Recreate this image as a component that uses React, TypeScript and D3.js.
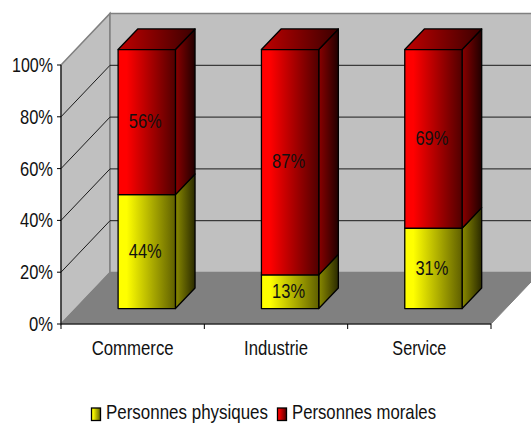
import React from "react";
import * as d3 from "d3";

const categories = ["Commerce", "Industrie", "Service"];
const seriesNames = ["Personnes physiques", "Personnes morales"];
const physiques = [44, 13, 31];
const morales = [56, 87, 69];
const yTicks = [0, 20, 40, 60, 80, 100];

const W = 531, H = 424;
const X0 = 61, X1 = 491, Y0 = 324, Y1 = 65;
const DX = 49, DY = -51.5;
const FONT = "'Liberation Sans', Arial, sans-serif";

const x = d3.scaleBand<string>().domain(categories).range([X0, X1]).paddingInner(0.6).paddingOuter(0.3);
const y = d3.scaleLinear().domain([0, 100]).range([Y0, Y1]);

const rows = categories.map((c, i) => ({ c, p: physiques[i], m: morales[i] }));
const stacked = d3.stack<any>().keys(["p", "m"])(rows);
const gradIds = ["y", "r"];
const front = ["#ffff00", "#ff0000"];
const frontEnd = ["#5f5f00", "#500000"];
const topStart = ["#aaaa00", "#c00000"];
const topEnd = ["#333300", "#3a0000"];
const sideStart = ["#8a8a00", "#8a0000"];
const sideEnd = ["#2a2a00", "#200000"];

const Z_START = 0.3, Z_LEN = 0.4;
const pts = (p: [number, number][]) => p.map(a => a.join(",")).join(" ");

function T({ x, y, w, children, size = 21, anchor = "middle" }: any) {
  return (
    <text x={x} y={y} fontFamily={FONT} fontSize={size} fill="#111" textAnchor={anchor}
      textLength={w} lengthAdjust="spacingAndGlyphs">{children}</text>
  );
}

function Grad({ id, a, b, stops }: any) {
  return (
    <linearGradient id={id} x1="0" x2="1" y1="0" y2="0">
      <stop offset="0" stopColor={a} />
      {stops ? <stop offset={stops} stopColor={a} /> : null}
      <stop offset="1" stopColor={b} />
    </linearGradient>
  );
}

export default function App() {
  const sx = DX * Z_START - 0.6, sy = DY * Z_START;
  const bx = DX * Z_LEN, by = DY * Z_LEN;
  const bw = x.bandwidth();
  return (
    <svg width={W} height={H} style={{ position: "absolute", left: 0, top: 0, background: "#fff" }}>
      <defs>
        {gradIds.map((g, i) => (
          <React.Fragment key={g}>
            <Grad id={`f${g}`} a={front[i]} b={frontEnd[i]} stops="0.15" />
            <Grad id={`t${g}`} a={topStart[i]} b={topEnd[i]} />
            <Grad id={`s${g}`} a={sideStart[i]} b={sideEnd[i]} />
          </React.Fragment>
        ))}
      </defs>

      <polygon points={pts([[X0, Y1], [X0 + DX, Y1 + DY], [X0 + DX, Y0 + DY], [X0, Y0]])} fill="#c0c0c0" stroke="#808080" strokeWidth={1.5} />
      <polygon points={pts([[X0 + DX, Y1 + DY], [X1 + DX, Y1 + DY], [X1 + DX, Y0 + DY], [X0 + DX, Y0 + DY]])} fill="#c0c0c0" stroke="#808080" strokeWidth={1.5} />
      <polygon points={pts([[X0, Y0], [X1, Y0], [X1 + DX, Y0 + DY], [X0 + DX, Y0 + DY]])} fill="#808080" stroke="#808080" />

      {yTicks.slice(1, -1).map(t => (
        <path key={t} d={`M${X0},${y(t)}L${X0 + DX},${y(t) + DY}L${X1 + DX},${y(t) + DY}`} stroke="#1a1a1a" strokeWidth={1} fill="none" />
      ))}

      <path d={`M${X0},${Y1}V${Y0}H${X1}`} fill="none" stroke="#000" strokeWidth={1} />
      {yTicks.map(t => (
        <g key={t}>
          <line x1={X0 - 4} x2={X0} y1={y(t)} y2={y(t)} stroke="#000" />
          <T x={53} y={y(t) + 7} anchor="end" w={t === 100 ? 41 : t === 0 ? 24 : 33}>{`${t}%`}</T>
        </g>
      ))}
      {[...categories.map(c => x(c)! - x.step() * 0.3), X1].map((v, i) => (
        <line key={i} x1={v} x2={v} y1={Y0} y2={Y0 + 5} stroke="#000" />
      ))}
      {categories.map((c, i) => (
        <T key={c} x={x(c)! - x.step() * 0.3 + x.step() / 2} y={355} w={[82, 64, 54][i]}>{c}</T>
      ))}

      {categories.map((c, ci) => {
        const left = x(c)! + sx, right = left + bw;
        return (
          <g key={c} stroke="#000" strokeWidth={1.3} strokeLinejoin="round">
            {stacked.map((s, si) => {
              const yb = y(s[ci][0]) + sy, yt = y(s[ci][1]) + sy;
              const g = gradIds[si];
              return (
                <g key={g}>
                  <polygon points={pts([[right, yb], [right + bx, yb + by], [right + bx, yt + by], [right, yt]])} fill={`url(#s${g})`} />
                  {si === 1 ? <polygon points={pts([[left, yt], [right, yt], [right + bx, yt + by], [left + bx, yt + by]])} fill={`url(#t${g})`} /> : null}
                  <rect x={left} y={yt} width={bw} height={yb - yt} fill={`url(#f${g})`} />
                </g>
              );
            })}
          </g>
        );
      })}
      {categories.map((c, ci) => stacked.map((s, si) => {
        const v = s[ci][1] - s[ci][0];
        return (
          <T key={c + si} x={x(c)! + sx + bw / 2 - 1.5} y={(y(s[ci][0]) + y(s[ci][1])) / 2 + sy + 6.2} w={33}>{`${v}%`}</T>
        );
      }))}

      {seriesNames.map((n, i) => {
        const sw = [91, 277][i], tx = [106, 292][i], tw = [162, 144][i];
        return (
          <g key={n}>
            <rect x={sw + 0.5} y={408} width={9} height={12.5} fill={`url(#f${gradIds[i]})`} stroke="#000" strokeWidth={1.3} />
            <T x={tx} y={419} anchor="start" w={tw}>{n}</T>
          </g>
        );
      })}
    </svg>
  );
}
